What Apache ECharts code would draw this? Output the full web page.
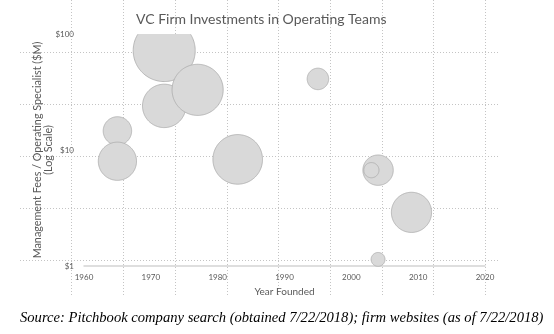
<!DOCTYPE html>
<html>
<head>
<meta charset="utf-8">
<script src="https://cdn.jsdelivr.net/npm/echarts@6/dist/echarts.min.js"></script>
<style>html,body{margin:0;padding:0;background:#fff}#c{width:554px;height:334px}</style>
</head>
<body>
<div id="c"></div>
<script>
// Data
const firmYears = [1972, 1972, 1977, 1965, 1965, 1983, 1995, 2004, 2003, 2009, 2004];
const feesPerSpecialist = [72, 24, 33, 14.6, 8, 8.3, 41, 6.7, 6.7, 2.9, 1.14];
const bubbleSizes = [100, 49, 68, 21, 38, 64, 12, 24, 6, 42, 5];
const yTickLabels = ['$1', '$10', '$100'];
const Y_MIN = 1, Y_MAX = 100;
const titleText = 'VC Firm Investments in Operating Teams';
const sourceText = 'Source: Pitchbook company search (obtained 7/22/2018); firm websites (as of 7/22/2018)';

const points = firmYears.map((y, i) => [y, feesPerSpecialist[i], bubbleSizes[i]]);
const FONT = 'Lato';
const GREY = '#595959';
const DOT = { color: '#c4c4c4', type: [1, 2], width: 1 };

const chart = echarts.init(document.getElementById('c'));
chart.setOption({
  animation: false,
  backgroundColor: '#fff',
  title: [
    { text: titleText, left: 131, top: 7,
      textStyle: { fontFamily: FONT, fontSize: 14, fontWeight: 'normal', color: GREY } },
    { text: sourceText, left: 15, top: 306,
      textStyle: { fontFamily: 'Liberation Serif', fontStyle: 'italic', fontSize: 14.6, fontWeight: 'normal', color: '#000' } }
  ],
  grid: [
    { left: 84, right: 69, top: 34, bottom: 68 },
    { left: 20, right: 54, top: 0, bottom: 37 }
  ],
  xAxis: [
    { type: 'value', gridIndex: 0, min: 1960, max: 2020, interval: 10,
      name: 'Year Founded', nameLocation: 'middle', nameGap: 21,
      nameTextStyle: { fontFamily: FONT, fontSize: 10, color: GREY },
      axisLine: { show: true, lineStyle: { color: '#d4d4d4', width: 1.5 } },
      axisTick: { show: false },
      splitLine: { show: false },
      axisLabel: { fontFamily: FONT, fontSize: 8, color: GREY, margin: 7, formatter: v => String(v) } },
    { type: 'value', gridIndex: 1, min: 20, max: 500, interval: 51.7,
      axisLine: { show: false }, axisTick: { show: false }, axisLabel: { show: false },
      splitLine: { show: true, showMinLine: false, showMaxLine: false, lineStyle: DOT } }
  ],
  yAxis: [
    { type: 'log', gridIndex: 0, logBase: 10, min: Y_MIN, max: Y_MAX,
      name: 'Management Fees / Operating Specialist ($M)\n(Log Scale)',
      nameLocation: 'middle', nameGap: 30, nameMoveOverlap: false,
      nameTextStyle: { fontFamily: FONT, fontSize: 10.8, color: GREY, lineHeight: 11, align: 'center' },
      axisLine: { show: false }, axisTick: { show: false }, splitLine: { show: false },
      axisLabel: { fontFamily: FONT, fontSize: 8, color: GREY, margin: 10,
        formatter: v => yTickLabels[Math.round(Math.log10(v))] } },
    { type: 'value', gridIndex: 1, inverse: true, min: 36, max: 333, interval: 52,
      axisLine: { show: false }, axisTick: { show: false }, axisLabel: { show: false },
      splitLine: { show: true, showMinLine: false, showMaxLine: false, lineStyle: DOT } }
  ],
  series: [{
    type: 'custom',
    xAxisIndex: 0, yAxisIndex: 0,
    clip: false,
    data: points,
    encode: { x: 0, y: 1 },
    renderItem: function (params, api) {
      const p = api.coord([api.value(0), api.value(1)]);
      const r = 3.1 * Math.sqrt(api.value(2));
      const top = api.coord([api.value(0), Y_MAX])[1];
      const N = 160;
      const fillPts = [];
      const arcPts = [];
      for (let k = 0; k <= N; k++) {
        const t = -Math.PI / 2 + 2 * Math.PI * k / N;
        const x = p[0] + r * Math.cos(t);
        const y = p[1] + r * Math.sin(t);
        fillPts.push([x, Math.max(y, top)]);
        if (y >= top) arcPts.push([x, y]);
      }
      return {
        type: 'group',
        children: [
          { type: 'polygon', shape: { points: fillPts }, style: { fill: '#d9d9d9', stroke: null } },
          { type: 'polyline', shape: { points: arcPts }, style: { fill: null, stroke: '#ababab', lineWidth: 0.8 } }
        ]
      };
    }
  }]
});
</script>
</body>
</html>
